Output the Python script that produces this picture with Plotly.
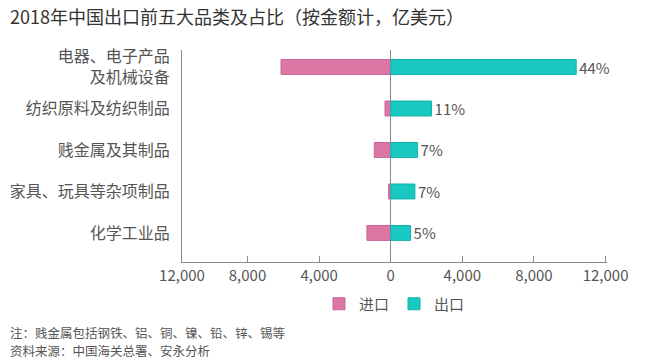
import plotly.graph_objects as go

categories = ["电器、电子产品<br>及机械设备", "纺织原料及纺织制品", "贱金属及其制品", "家具、玩具等杂项制品", "化学工业品"]
exports = [10360, 2280, 1500, 1350, 1110]
imports = [6130, 320, 920, 120, 1330]
shares = ["44%", "11%", "7%", "7%", "5%"]
tick_vals = [-11660, -8000, -4000, 0, 4000, 8000, 12000]
tick_text = ["12,000", "8,000", "4,000", "0", "4,000", "8,000", "12,000"]

# page body has an 8px margin, so the figure is drawn 8px in from the window corner
OFF = 8
W, H = 650 - OFF, 361 - OFF
L, R, T, B = 182 - OFF, 43, 50 - OFF, 99
PW, PH = W - L - R, H - T - B

def px(x):
    return (x - OFF - L) / PW

def py(y):
    return (H - B - (y - OFF)) / PH

FONT = "Noto Sans CJK SC"
PINK = "#DC76A5"
TEAL = "#19C9C1"

fig = go.Figure()
fig.add_trace(go.Bar(
    y=categories, x=[-v for v in imports], orientation="h", name="进口",
    marker=dict(color=PINK, line=dict(color="#C9659A", width=1)),
    width=0.36, hoverinfo="skip",
))
fig.add_trace(go.Bar(
    y=categories, x=exports, orientation="h", name="出口",
    marker=dict(color=TEAL, line=dict(color="#12B3AC", width=1)),
    width=0.36, text=shares, textposition="outside", cliponaxis=False,
    constraintext="none",
    textfont=dict(size=15, color="#555555", family=FONT), hoverinfo="skip",
))

fig.update_layout(
    width=W, height=H,
    margin=dict(l=L, r=R, t=T, b=B, autoexpand=False),
    barmode="relative",
    plot_bgcolor="white", paper_bgcolor="white",
    font=dict(family=FONT, color="#555555"),
    title=dict(text="2018年中国出口前五大品类及占比（按金额计，亿美元）",
               x=2 / W, xanchor="left", y=1 - (17.5 - OFF) / H, yanchor="middle",
               pad=dict(l=0),
               font=dict(size=18, color="#333333", family=FONT)),
    xaxis=dict(range=[-11660, 12080], tickvals=tick_vals, ticktext=tick_text,
               showgrid=False, zeroline=True, zerolinecolor="#8a8a8a", zerolinewidth=1,
               showline=True, linecolor="#8a8a8a", linewidth=1,
               ticks="inside", ticklen=6, tickcolor="#8a8a8a", automargin=False,
               tickfont=dict(size=15, color="#555555", family=FONT)),
    yaxis=dict(type="category", range=[4.70, -0.41], showgrid=False,
               showline=True, linecolor="#8a8a8a", linewidth=1, ticks="",
               ticklabelstandoff=8, automargin=False,
               tickfont=dict(size=16, color="#555555", family=FONT)),
    legend=dict(orientation="h", x=0.5, xanchor="center", y=py(304), yanchor="middle",
                font=dict(size=15, color="#555555", family=FONT),
                traceorder="normal", itemwidth=30),
    showlegend=True,
)

fig.add_annotation(text="注：贱金属包括钢铁、铝、铜、镍、铅、锌、锡等", xref="paper", yref="paper",
                   x=px(8), y=py(332), xanchor="left", yanchor="middle", showarrow=False,
                   font=dict(size=12.5, color="#555555", family=FONT))
fig.add_annotation(text="资料来源：中国海关总署、安永分析", xref="paper", yref="paper",
                   x=px(8), y=py(350), xanchor="left", yanchor="middle", showarrow=False,
                   font=dict(size=12.5, color="#555555", family=FONT))

fig.write_html("out.html")
